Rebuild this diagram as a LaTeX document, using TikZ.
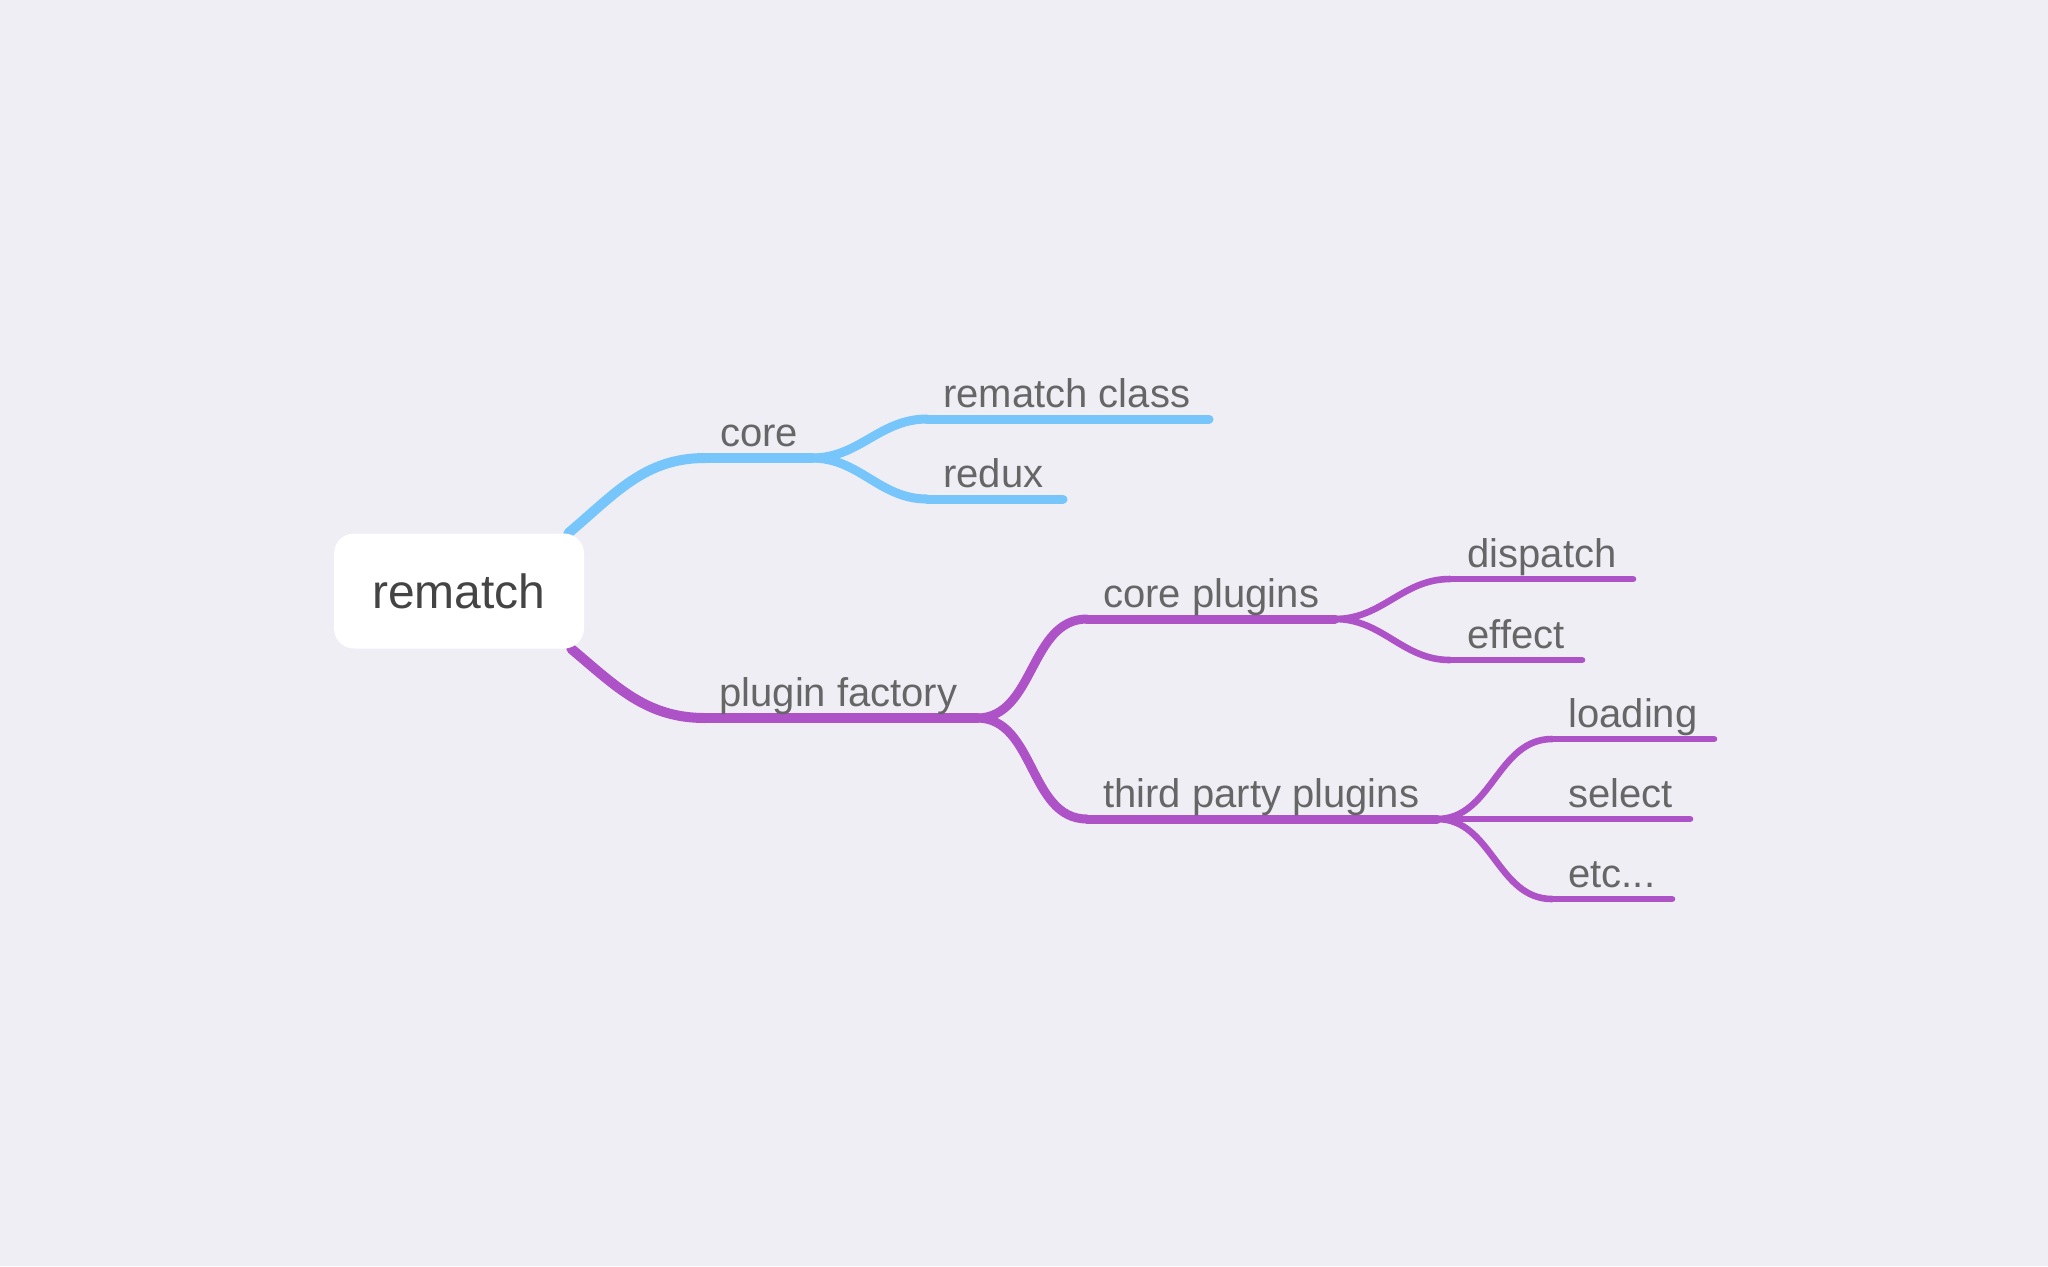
\documentclass[tikz,border=0pt]{standalone}
\usepackage{fontspec}
\setmainfont{Liberation Sans}
\usetikzlibrary{backgrounds}

\definecolor{bg}{HTML}{EFEEF5}
\definecolor{skyline}{HTML}{76C6FC}
\definecolor{plumline}{HTML}{AD52C7}
\definecolor{lbltext}{HTML}{666666}
\definecolor{roottext}{HTML}{444444}

\begin{document}
\begin{tikzpicture}[x=0.5pt,y=-0.5pt,
  lbl/.style={anchor=base west,inner sep=0pt,text=lbltext,font=\fontsize{20}{24}\selectfont},
  rootbox/.style={fill=white,rounded corners=10pt,minimum width=125pt,minimum height=57.5pt,text=roottext,font=\fontsize{24}{28}\selectfont},
  trunk/.style={line width=5pt,line cap=round},
  twig/.style={line width=4.5pt,line cap=round},
  leaf/.style={line width=3.3pt,line cap=round}]

  \useasboundingbox (0,0) rectangle (2048,1266);

  % rematch
  \node[rootbox] (root) at (459,591) {rematch};

  % core
  \coordinate (coreA) at (705,458);
  \coordinate (coreB) at (812,458);
  \node[lbl] (core) at ([shift={(15,-12)}]coreA) {core};

  \coordinate (classA) at (927,419);
  \coordinate (classB) at (1209,419);
  \node[lbl] (class) at ([shift={(16,-12)}]classA) {rematch class};

  \coordinate (reduxA) at (927,499);
  \coordinate (reduxB) at (1063,499);
  \node[lbl] (redux) at ([shift={(16,-12)}]reduxA) {redux};

  % plugin factory
  \coordinate (factoryA) at (705,718);
  \coordinate (factoryB) at (977,718);
  \node[lbl] (factory) at ([shift={(14,-12)}]factoryA) {plugin factory};

  \coordinate (corepA) at (1087,619);
  \coordinate (corepB) at (1335,619);
  \node[lbl] (corep) at ([shift={(16,-12)}]corepA) {core plugins};

  \coordinate (dispatchA) at (1450,579);
  \coordinate (dispatchB) at (1633,579);
  \node[lbl] (dispatch) at ([shift={(17,-12)}]dispatchA) {dispatch};

  \coordinate (effectA) at (1450,660);
  \coordinate (effectB) at (1582,660);
  \node[lbl] (effect) at ([shift={(17,-12)}]effectA) {effect};

  \coordinate (thirdA) at (1087,819);
  \coordinate (thirdB) at (1437,819);
  \node[lbl] (third) at ([shift={(16,-12)}]thirdA) {third party plugins};

  \coordinate (loadingA) at (1552,739);
  \coordinate (loadingB) at (1714,739);
  \node[lbl] (loading) at ([shift={(16,-12)}]loadingA) {loading};

  \coordinate (selectA) at (1552,819);
  \coordinate (selectB) at (1690,819);
  \node[lbl] (select) at ([shift={(16,-12)}]selectA) {select};

  \coordinate (etcA) at (1552,899);
  \coordinate (etcB) at (1672,899);
  \node[lbl] (etc) at ([shift={(16,-12)}]etcA) {etc...};

  \begin{pgfonlayer}{background}
    \fill[bg] (0,0) rectangle (2048,1266);

    \path[draw=skyline]
    ([xshift=-8pt]root.north east) edge[trunk,out=40,in=180] (coreA)
    (coreA) edge[trunk] (coreB)
    (coreB) edge[twig,out=0,in=180] (classA)
    (classA) edge[twig] (classB)
    (coreB) edge[twig,out=0,in=180] (reduxA)
    (reduxA) edge[twig] (reduxB);

    \path[draw=plumline]
    ([xshift=-6.5pt]root.south east) edge[trunk,out=-40,in=180] (factoryA)
    (factoryA) edge[trunk] (factoryB)
    (factoryB) edge[twig,out=0,in=180] (corepA)
    (corepA) edge[twig] (corepB)
    (factoryB) edge[twig,out=0,in=180] (thirdA)
    (thirdA) edge[twig] (thirdB)
    (corepB) edge[leaf,out=0,in=180] (dispatchA)
    (dispatchA) edge[leaf] (dispatchB)
    (corepB) edge[leaf,out=0,in=180] (effectA)
    (effectA) edge[leaf] (effectB)
    (thirdB) edge[leaf,out=0,in=180] (loadingA)
    (loadingA) edge[leaf] (loadingB)
    (thirdB) edge[leaf] (selectB)
    (thirdB) edge[leaf,out=0,in=180] (etcA)
    (etcA) edge[leaf] (etcB);
  \end{pgfonlayer}
\end{tikzpicture}
\end{document}
